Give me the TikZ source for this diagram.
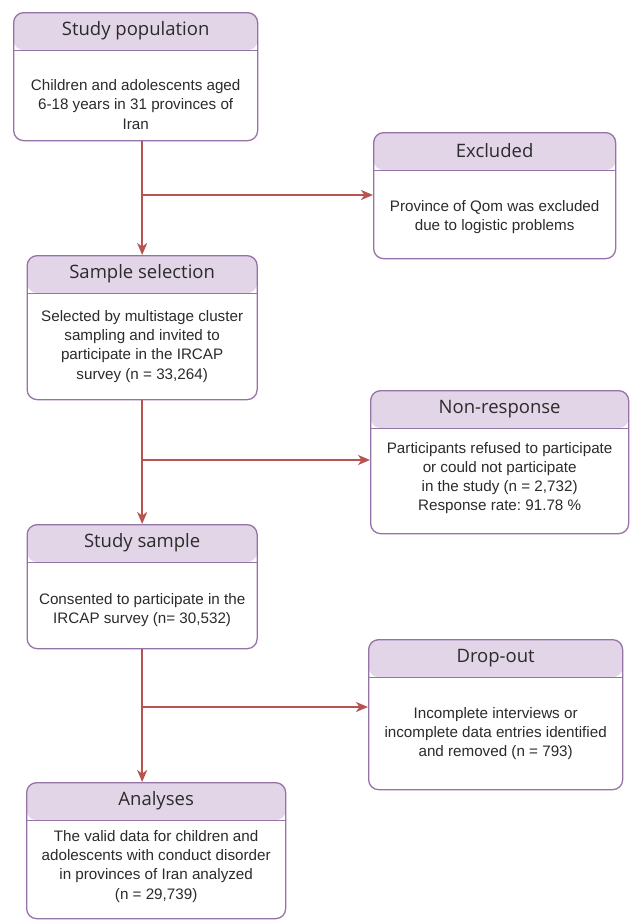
\documentclass[tikz,border=0pt]{standalone}
\usepackage{fontspec}
\setmainfont{Liberation Sans}
\newfontfamily\headfont{Open Sans}
\usetikzlibrary{arrows.meta,calc,positioning}
\definecolor{headfill}{HTML}{E1D5E7}
\definecolor{boxline}{HTML}{9673A6}
\definecolor{flowred}{HTML}{B85450}
\definecolor{textgray}{HTML}{2B2B2B}
\frenchspacing

\begin{document}
\begin{tikzpicture}[x=1pt,y=-1pt]
      \tikzstyle{card}=[draw=boxline,fill=white,rounded corners=10pt,line width=1.3pt,inner sep=0pt,anchor=north west,
        path picture={\fill[headfill] (path picture bounding box.north west) rectangle ([yshift=-37.5pt]path picture bounding box.north east);
          \draw[boxline,line width=1.3pt] ([yshift=-37.5pt]path picture bounding box.north west) -- ([yshift=-37.5pt]path picture bounding box.north east);}]
      \tikzstyle{title}=[font=\headfont\fontsize{18.5}{22}\selectfont,text=textgray,inner sep=0pt]
      \tikzstyle{body}=[font=\fontsize{15.2}{19.2}\selectfont,text=textgray,align=center,inner sep=0pt]
      \tikzstyle{flow}=[draw=flowred,line width=1.6pt,-{Stealth[length=12pt,width=10pt,inset=3.5pt]}]

      \fill[white] (0,0) rectangle (631,921);
      \useasboundingbox (0,0) rectangle (631,921);

      % left column
      \node[card,minimum width=244pt,minimum height=128pt] (pop) at (13,12) {};
      \node[card,minimum width=230pt,minimum height=144pt] (sel) at (26.5,255) {};
      \node[card,minimum width=230pt,minimum height=124pt] (samp) at (26.5,524) {};
      \node[card,minimum width=259pt,minimum height=136pt] (anal) at (26,782) {};

      % right column
      \node[card,minimum width=242pt,minimum height=126pt] (excl) at (373,132) {};
      \node[card,minimum width=258pt,minimum height=143pt] (nonr) at (370,390) {};
      \node[card,minimum width=254pt,minimum height=150pt] (drop) at (368,639) {};

      % titles
      \node[title] (popT) at ([yshift=-18.75pt]pop.north) {Study population};
      \node[title] (selT) at ([yshift=-18.75pt]sel.north) {Sample selection};
      \node[title] (sampT) at ([yshift=-18.75pt]samp.north) {Study sample};
      \node[title] (analT) at ([yshift=-18.75pt]anal.north) {Analyses};
      \node[title] (exclT) at ([yshift=-18.75pt]excl.north) {Excluded};
      \node[title] (nonrT) at ([yshift=-18.75pt]nonr.north) {Non-response};
      \node[title] (dropT) at ([yshift=-18.75pt]drop.north) {Drop-out};

      % texts
      \node[body,yshift=-9pt] (popB) at ($(pop.south)!0.5!([yshift=-37.5pt]pop.north)$)
        {Children and adolescents aged\\6-18 years in 31 provinces of\\Iran};
      \node[body] (selB) at ($(sel.south)!0.5!([yshift=-37.5pt]sel.north)$)
        {Selected by multistage cluster\\sampling and invited to\\participate in the IRCAP\\survey (n = 33,264)};
      \node[body,yshift=-5pt] (sampB) at ($(samp.south)!0.5!([yshift=-37.5pt]samp.north)$)
        {Consented to participate in the\\IRCAP survey (n= 30,532)};
      \node[body,yshift=3pt] (analB) at ($(anal.south)!0.5!([yshift=-37.5pt]anal.north)$)
        {The valid data for children and\\adolescents with conduct disorder\\in provinces of Iran analyzed\\(n = 29,739)};
      \node[body,yshift=-2.5pt] (exclB) at ($(excl.south)!0.5!([yshift=-37.5pt]excl.north)$)
        {Province of Qom was excluded\\due to logistic problems};
      \node[body,yshift=3pt] (nonrB) at ($(nonr.south)!0.5!([yshift=-37.5pt]nonr.north)$)
        {Participants refused to participate\\or could not participate\\in the study (n = 2,732)\\Response rate: 91.78 \%};
      \node[body] (dropB) at ($(drop.south)!0.5!([yshift=-37.5pt]drop.north)$)
        {Incomplete interviews or\\incomplete data entries identified\\and removed (n = 793)};

      % junctions on the main line
      \coordinate (j1) at (sel.north |- 0,195);
      \coordinate (j2) at (sel.north |- 0,460);
      \coordinate (j3) at (sel.north |- 0,707);

      \draw[flow] (pop.south -| sel.north) -- (sel.north);
      \draw[flow] (sel.south) -- (samp.north);
      \draw[flow] (samp.south) -- (samp.south |- anal.north);
      \draw[flow] (j1) -- (j1 -| excl.west);
      \draw[flow] (j2) -- (j2 -| nonr.west);
      \draw[flow] (j3) -- (j3 -| drop.west);
    \end{tikzpicture}
\end{document}
